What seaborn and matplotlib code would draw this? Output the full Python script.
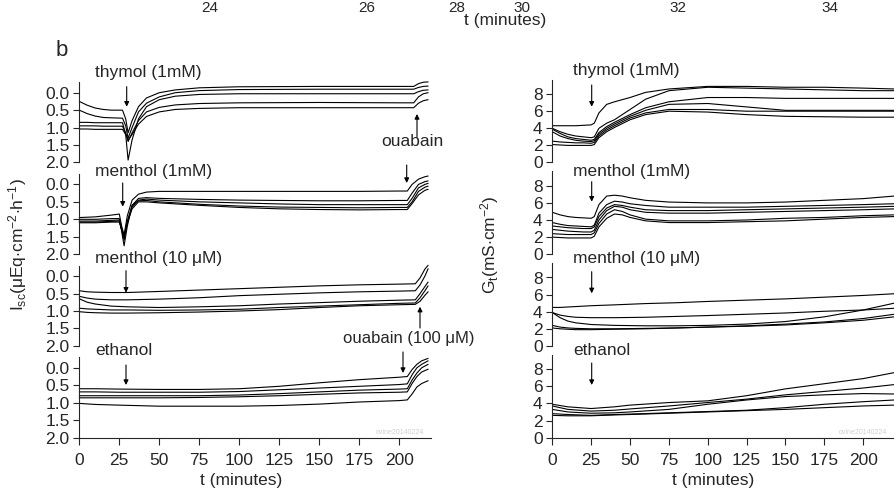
import numpy as np
import pandas as pd
import matplotlib
matplotlib.use("Agg")
import matplotlib.pyplot as plt
import seaborn as sns

# ---------------- data ----------------
# Left column: short-circuit current Isc (uEq cm-2 h-1), axis inverted
isc_thymol_t = [0, 5, 10, 15, 20, 27, 29, 30.5, 33, 37, 42, 50, 60, 75, 100, 150, 200, 209, 212, 215, 218]
isc_thymol_1 = [0.25, 0.36, 0.44, 0.48, 0.5, 0.5, 0.75, 1.15, 0.8, 0.4, 0.15, 0.0, -0.08, -0.14, -0.17, -0.18, -0.18, -0.18, -0.26, -0.3, -0.31]
isc_thymol_2 = [0.5, 0.6, 0.67, 0.71, 0.72, 0.73, 0.95, 1.3, 1.0, 0.55, 0.3, 0.12, 0.0, -0.06, -0.09, -0.1, -0.1, -0.1, -0.15, -0.18, -0.19]
isc_thymol_3 = [0.85, 0.85, 0.86, 0.86, 0.86, 0.86, 1.2, 1.93, 1.35, 0.75, 0.4, 0.2, 0.1, 0.05, 0.03, 0.03, 0.03, 0.03, -0.03, -0.07, -0.08]
isc_thymol_4 = [0.95, 0.95, 0.95, 0.96, 0.96, 0.96, 1.15, 1.4, 1.15, 0.8, 0.55, 0.42, 0.35, 0.31, 0.29, 0.28, 0.29, 0.29, 0.12, 0.03, 0.0]
isc_thymol_5 = [1.04, 1.04, 1.05, 1.05, 1.05, 1.05, 1.2, 1.35, 1.2, 0.9, 0.68, 0.55, 0.48, 0.45, 0.43, 0.43, 0.43, 0.43, 0.3, 0.23, 0.2]

isc_menthol1_t = [0, 10, 20, 25, 26.5, 28, 30, 33, 37, 42, 50, 75, 100, 125, 150, 175, 200, 205, 208, 212, 216, 218]
isc_menthol1_1 = [0.95, 0.93, 0.88, 0.85, 1.2, 1.45, 0.9, 0.45, 0.28, 0.22, 0.2, 0.2, 0.2, 0.2, 0.2, 0.2, 0.19, 0.19, 0.0, -0.15, -0.22, -0.24]
isc_menthol1_2 = [1.0, 1.0, 0.98, 0.98, 1.35, 1.76, 1.2, 0.6, 0.4, 0.38, 0.4, 0.43, 0.45, 0.46, 0.47, 0.47, 0.46, 0.46, 0.25, 0.0, -0.08, -0.1]
isc_menthol1_3 = [1.05, 1.05, 1.03, 1.02, 1.3, 1.6, 1.1, 0.65, 0.45, 0.42, 0.45, 0.5, 0.53, 0.56, 0.58, 0.58, 0.58, 0.58, 0.4, 0.1, 0.0, -0.03]
isc_menthol1_4 = [1.08, 1.08, 1.06, 1.05, 1.3, 1.5, 1.05, 0.6, 0.47, 0.46, 0.5, 0.57, 0.62, 0.65, 0.66, 0.67, 0.66, 0.66, 0.5, 0.2, 0.08, 0.05]
isc_menthol1_5 = [1.1, 1.1, 1.08, 1.08, 1.3, 1.5, 1.1, 0.7, 0.5, 0.5, 0.53, 0.6, 0.66, 0.7, 0.72, 0.73, 0.72, 0.72, 0.55, 0.3, 0.17, 0.14]

isc_menthol10_t = [0, 5, 10, 20, 30, 50, 75, 100, 125, 150, 175, 200, 210, 213, 216, 218]
isc_menthol10_1 = [0.42, 0.45, 0.46, 0.47, 0.47, 0.44, 0.4, 0.36, 0.32, 0.28, 0.25, 0.23, 0.22, 0.05, -0.2, -0.31]
isc_menthol10_2 = [0.58, 0.63, 0.66, 0.68, 0.68, 0.66, 0.62, 0.56, 0.52, 0.48, 0.45, 0.43, 0.42, 0.25, 0.0, -0.21]
isc_menthol10_3 = [0.65, 0.75, 0.8, 0.86, 0.88, 0.9, 0.88, 0.85, 0.8, 0.76, 0.72, 0.69, 0.68, 0.5, 0.3, 0.17]
isc_menthol10_4 = [0.92, 0.94, 0.95, 0.97, 0.97, 0.98, 0.97, 0.95, 0.9, 0.86, 0.82, 0.78, 0.77, 0.62, 0.42, 0.28]
isc_menthol10_5 = [1.02, 1.04, 1.05, 1.06, 1.06, 1.05, 1.03, 1.0, 0.96, 0.9, 0.85, 0.82, 0.81, 0.72, 0.55, 0.45]

isc_ethanol_t = [0, 10, 25, 50, 75, 100, 125, 150, 175, 200, 205, 208, 211, 214, 218]
isc_ethanol_1 = [0.6, 0.6, 0.61, 0.62, 0.62, 0.6, 0.53, 0.43, 0.34, 0.27, 0.25, 0.05, -0.1, -0.2, -0.27]
isc_ethanol_2 = [0.69, 0.69, 0.7, 0.7, 0.7, 0.68, 0.63, 0.58, 0.53, 0.48, 0.46, 0.2, 0.0, -0.1, -0.2]
isc_ethanol_3 = [0.8, 0.8, 0.8, 0.8, 0.8, 0.78, 0.74, 0.69, 0.64, 0.61, 0.6, 0.35, 0.15, 0.0, -0.1]
isc_ethanol_4 = [0.86, 0.86, 0.86, 0.86, 0.85, 0.83, 0.8, 0.76, 0.72, 0.7, 0.69, 0.45, 0.25, 0.12, 0.04]
isc_ethanol_5 = [1.02, 1.05, 1.07, 1.1, 1.1, 1.1, 1.08, 1.04, 0.98, 0.94, 0.92, 0.75, 0.55, 0.45, 0.37]

# Right column: transepithelial conductance Gt (mS cm-2)
gt_thymol_t = [0, 5, 10, 15, 20, 25, 27, 30, 35, 40, 50, 60, 75, 100, 125, 150, 175, 200, 220]
gt_thymol_1 = [4.3, 4.3, 4.3, 4.3, 4.35, 4.4, 4.6, 5.8, 6.8, 7.1, 7.6, 8.2, 8.6, 8.9, 8.9, 8.8, 8.8, 8.7, 8.6]
gt_thymol_2 = [4.0, 3.6, 3.3, 3.1, 3.0, 2.9, 3.0, 4.0, 4.6, 5.0, 6.2, 7.4, 8.4, 8.8, 8.7, 8.6, 8.5, 8.4, 8.4]
gt_thymol_3 = [3.9, 3.4, 3.0, 2.8, 2.7, 2.6, 2.7, 3.5, 4.2, 4.7, 5.6, 6.4, 7.1, 7.6, 7.6, 7.5, 7.5, 7.5, 7.5]
gt_thymol_4 = [3.6, 3.1, 2.8, 2.6, 2.5, 2.45, 2.55, 3.3, 4.0, 4.5, 5.4, 6.1, 6.8, 6.9, 6.5, 6.1, 6.1, 6.1, 6.1]
gt_thymol_5 = [2.5, 2.4, 2.35, 2.3, 2.3, 2.25, 2.35, 3.1, 3.8, 4.3, 5.2, 5.8, 6.2, 6.2, 6.0, 6.0, 6.0, 6.0, 6.0]
gt_thymol_6 = [2.1, 2.05, 2.0, 2.0, 2.0, 2.0, 2.1, 2.9, 3.6, 4.1, 5.0, 5.6, 6.0, 5.9, 5.6, 5.4, 5.35, 5.3, 5.3]

gt_menthol1_t = [0, 5, 10, 15, 20, 25, 27, 30, 35, 40, 45, 50, 60, 75, 100, 125, 150, 175, 200, 220]
gt_menthol1_1 = [4.9, 4.6, 4.4, 4.3, 4.25, 4.2, 4.4, 5.8, 6.8, 6.9, 6.8, 6.6, 6.3, 6.1, 6.0, 6.0, 6.1, 6.3, 6.5, 6.8]
gt_menthol1_2 = [3.7, 3.5, 3.35, 3.3, 3.25, 3.2, 3.4, 4.8, 5.8, 6.2, 6.1, 5.9, 5.7, 5.5, 5.5, 5.5, 5.6, 5.7, 5.8, 5.9]
gt_menthol1_3 = [3.3, 3.2, 3.1, 3.05, 3.0, 3.0, 3.2, 4.4, 5.4, 5.8, 5.7, 5.5, 5.2, 5.1, 5.1, 5.2, 5.3, 5.4, 5.5, 5.6]
gt_menthol1_4 = [2.9, 2.8, 2.7, 2.65, 2.6, 2.6, 2.8, 4.0, 5.1, 5.6, 5.5, 5.2, 4.9, 4.8, 4.8, 4.9, 5.0, 5.1, 5.2, 5.3]
gt_menthol1_5 = [2.4, 2.35, 2.3, 2.3, 2.3, 2.3, 2.5, 3.6, 4.7, 5.2, 5.0, 4.6, 4.1, 3.9, 3.9, 4.0, 4.2, 4.3, 4.5, 4.6]
gt_menthol1_6 = [2.0, 1.95, 1.9, 1.9, 1.9, 1.9, 2.1, 3.2, 4.2, 4.7, 4.6, 4.3, 3.9, 3.7, 3.7, 3.8, 3.9, 4.1, 4.3, 4.4]

gt_menthol10_t = [0, 5, 10, 15, 25, 40, 60, 80, 100, 125, 150, 175, 200, 220]
gt_menthol10_1 = [4.5, 4.5, 4.55, 4.6, 4.7, 4.8, 4.95, 5.05, 5.2, 5.35, 5.5, 5.7, 5.9, 6.1]
gt_menthol10_2 = [3.9, 3.6, 3.45, 3.35, 3.3, 3.3, 3.35, 3.45, 3.55, 3.7, 3.85, 4.05, 4.2, 4.4]
gt_menthol10_3 = [3.9, 3.3, 2.9, 2.7, 2.5, 2.4, 2.35, 2.35, 2.4, 2.55, 2.85, 3.4, 4.2, 5.0]
gt_menthol10_4 = [2.4, 2.2, 2.1, 2.05, 2.0, 2.0, 2.05, 2.1, 2.2, 2.35, 2.55, 2.8, 3.2, 3.7]
gt_menthol10_5 = [2.1, 2.0, 1.95, 1.9, 1.9, 1.95, 2.0, 2.1, 2.2, 2.3, 2.45, 2.7, 3.0, 3.4]

gt_ethanol_t = [0, 10, 25, 40, 50, 75, 100, 125, 150, 175, 200, 220]
gt_ethanol_1 = [3.9, 3.6, 3.4, 3.6, 3.8, 4.1, 4.3, 4.9, 5.7, 6.3, 6.9, 7.6]
gt_ethanol_2 = [3.7, 3.3, 3.1, 3.2, 3.35, 3.7, 4.1, 4.5, 5.0, 5.4, 5.8, 6.2]
gt_ethanol_3 = [3.3, 3.0, 2.85, 2.9, 3.0, 3.3, 3.9, 4.4, 4.8, 5.0, 5.15, 5.1]
gt_ethanol_4 = [2.8, 2.7, 2.6, 2.7, 2.75, 2.9, 3.05, 3.2, 3.5, 3.9, 4.2, 4.4]
gt_ethanol_5 = [2.6, 2.55, 2.55, 2.65, 2.7, 2.85, 3.0, 3.15, 3.3, 3.5, 3.7, 3.8]

treatments = ["thymol (1mM)", "menthol (1mM)", "menthol (10 \u03bcM)", "ethanol"]
isc_ticks = [0.0, 0.5, 1.0, 1.5, 2.0]
gt_ticks = [0, 2, 4, 6, 8]
t_ticks = [0, 25, 50, 75, 100, 125, 150, 175, 200]
prev_ticks = ["24", "26", "28", "30", "32", "34"]

isc_panels = [
    (isc_thymol_t, [isc_thymol_1, isc_thymol_2, isc_thymol_3, isc_thymol_4, isc_thymol_5]),
    (isc_menthol1_t, [isc_menthol1_1, isc_menthol1_2, isc_menthol1_3, isc_menthol1_4, isc_menthol1_5]),
    (isc_menthol10_t, [isc_menthol10_1, isc_menthol10_2, isc_menthol10_3, isc_menthol10_4, isc_menthol10_5]),
    (isc_ethanol_t, [isc_ethanol_1, isc_ethanol_2, isc_ethanol_3, isc_ethanol_4, isc_ethanol_5]),
]
gt_panels = [
    (gt_thymol_t, [gt_thymol_1, gt_thymol_2, gt_thymol_3, gt_thymol_4, gt_thymol_5, gt_thymol_6]),
    (gt_menthol1_t, [gt_menthol1_1, gt_menthol1_2, gt_menthol1_3, gt_menthol1_4, gt_menthol1_5, gt_menthol1_6]),
    (gt_menthol10_t, [gt_menthol10_1, gt_menthol10_2, gt_menthol10_3, gt_menthol10_4, gt_menthol10_5]),
    (gt_ethanol_t, [gt_ethanol_1, gt_ethanol_2, gt_ethanol_3, gt_ethanol_4, gt_ethanol_5]),
]

# ---------------- style ----------------
sns.set_style("ticks")
plt.rcParams["font.family"] = ["Liberation Sans", "DejaVu Sans"]
plt.rcParams["mathtext.fontset"] = "custom"
plt.rcParams["mathtext.rm"] = "Liberation Sans"
plt.rcParams["mathtext.it"] = "Liberation Sans:italic"
plt.rcParams["axes.linewidth"] = 0.8

W, H = 894, 490
fig = plt.figure(figsize=(W / 100, H / 100), dpi=100)


def fx(x):
    return x / W


def fy(y):
    return 1 - y / H


def long_df(t, traces):
    rows = []
    for i, tr in enumerate(traces):
        for tt, vv in zip(t, tr):
            rows.append((i, tt, vv))
    return pd.DataFrame(rows, columns=["trace", "t", "v"])


bottoms = [162.5, 254.2, 345.9, 437.6]
isc_unit = 34.9   # px per uEq
gt_unit = 8.55    # px per mS
FS = 12.5
LFS = 12.5

for i, (t, traces) in enumerate(isc_panels):
    h_px = 2.3 * isc_unit
    ax = fig.add_axes([fx(79.3), fy(bottoms[i]), 352 / W, h_px / H])
    ax.patch.set_alpha(0)
    sns.lineplot(data=long_df(t, traces), x="t", y="v", units="trace", estimator=None,
                 color="black", linewidth=0.8, ax=ax, legend=False, sort=False)
    for ln in ax.lines:
        ln.set_clip_on(False)
    ax.set_xlim(0, 220)
    ax.set_ylim(2.0, -0.3)
    ax.set_yticks(isc_ticks)
    ax.set_yticklabels([f"{v:.1f}" for v in isc_ticks], fontsize=FS)
    ax.set_xlabel("")
    ax.set_ylabel("")
    ax.spines["top"].set_visible(False)
    ax.spines["right"].set_visible(False)
    ax.tick_params(axis="y", length=4, width=0.8, pad=3)
    if i < 3:
        ax.spines["bottom"].set_visible(False)
        ax.set_xticks([])
    else:
        ax.set_xticks(t_ticks)
        ax.set_xticklabels([str(v) for v in t_ticks], fontsize=FS)
        ax.tick_params(axis="x", length=5, width=0.8, pad=6)

for i, (t, traces) in enumerate(gt_panels):
    h_px = 9.7 * gt_unit
    ax = fig.add_axes([fx(552.3), fy(bottoms[i]), 342 / W, h_px / H])
    ax.patch.set_alpha(0)
    sns.lineplot(data=long_df(t, traces), x="t", y="v", units="trace", estimator=None,
                 color="black", linewidth=0.8, ax=ax, legend=False, sort=False)
    ax.set_xlim(0, 220)
    ax.set_ylim(0, 9.7)
    ax.set_yticks(gt_ticks)
    ax.set_yticklabels([str(v) for v in gt_ticks], fontsize=FS)
    ax.set_xlabel("")
    ax.set_ylabel("")
    ax.spines["top"].set_visible(False)
    ax.spines["right"].set_visible(False)
    ax.tick_params(axis="y", length=4, width=0.8, pad=3)
    if i < 3:
        ax.spines["bottom"].set_visible(False)
        ax.set_xticks([])
    else:
        ax.set_xticks(t_ticks)
        ax.set_xticklabels([str(v) for v in t_ticks], fontsize=FS)
        ax.tick_params(axis="x", length=5, width=0.8, pad=6)

# ---------------- texts ----------------
for x, s in zip([210, 367, 457, 522, 678, 830], prev_ticks):
    fig.text(fx(x), fy(8), s, ha="center", va="center", fontsize=11)
fig.text(fx(505), fy(21), "t (minutes)", ha="center", va="center", fontsize=LFS)
fig.text(fx(62), fy(50), "b", ha="center", va="center", fontsize=16)

left_label_y = [72, 171.7, 259, 350]
right_label_y = [70.7, 171.7, 258, 350]
for s, y in zip(treatments, left_label_y):
    fig.text(fx(95), fy(y), s, ha="left", va="center", fontsize=FS)
for s, y in zip(treatments, right_label_y):
    fig.text(fx(573), fy(y), s, ha="left", va="center", fontsize=FS)
fig.text(fx(381), fy(142), "ouabain", ha="left", va="center", fontsize=FS)
fig.text(fx(343), fy(338), "ouabain (100 \u03bcM)", ha="left", va="center", fontsize=12)

fig.text(fx(18), fy(245), "I$_{\\mathrm{sc}}$(\u03bcEq$\\cdot$cm$^{\\mathrm{-2}}$$\\cdot$h$^{\\mathrm{-1}}$)",
         rotation=90, ha="center", va="center", fontsize=LFS)
fig.text(fx(490), fy(245), "G$_{\\mathrm{t}}$(mS$\\cdot$cm$^{\\mathrm{-2}}$)",
         rotation=90, ha="center", va="center", fontsize=LFS)
fig.text(fx(241), fy(480), "t (minutes)", ha="center", va="center", fontsize=LFS)
fig.text(fx(713), fy(480), "t (minutes)", ha="center", va="center", fontsize=LFS)

fig.text(fx(400), fy(432), "ovine20140224", ha="center", va="center", fontsize=5, color="#cfcfcf")
fig.text(fx(863), fy(432), "ovine20140224", ha="center", va="center", fontsize=5, color="#cfcfcf")

# ---------------- arrows ----------------
arrows = [
    (126.7, 86.7, 106.7), (417, 137, 114),
    (122.7, 183, 206.7), (406.7, 165, 183),
    (126, 270.7, 292.7), (420, 328, 306.7),
    (126, 365, 385), (403, 352, 373),
    (591.7, 85, 106.7), (591.7, 181.7, 201.7),
    (591.7, 271.7, 293.3), (591.7, 363, 385),
]
for x, y0, y1 in arrows:
    fig.add_artist(matplotlib.patches.FancyArrowPatch(
        (fx(x), fy(y0)), (fx(x), fy(y1)), transform=fig.transFigure,
        arrowstyle="-|>", mutation_scale=7, lw=0.8, color="black",
        shrinkA=0, shrinkB=0))

fig.savefig("out.png", dpi=100)
